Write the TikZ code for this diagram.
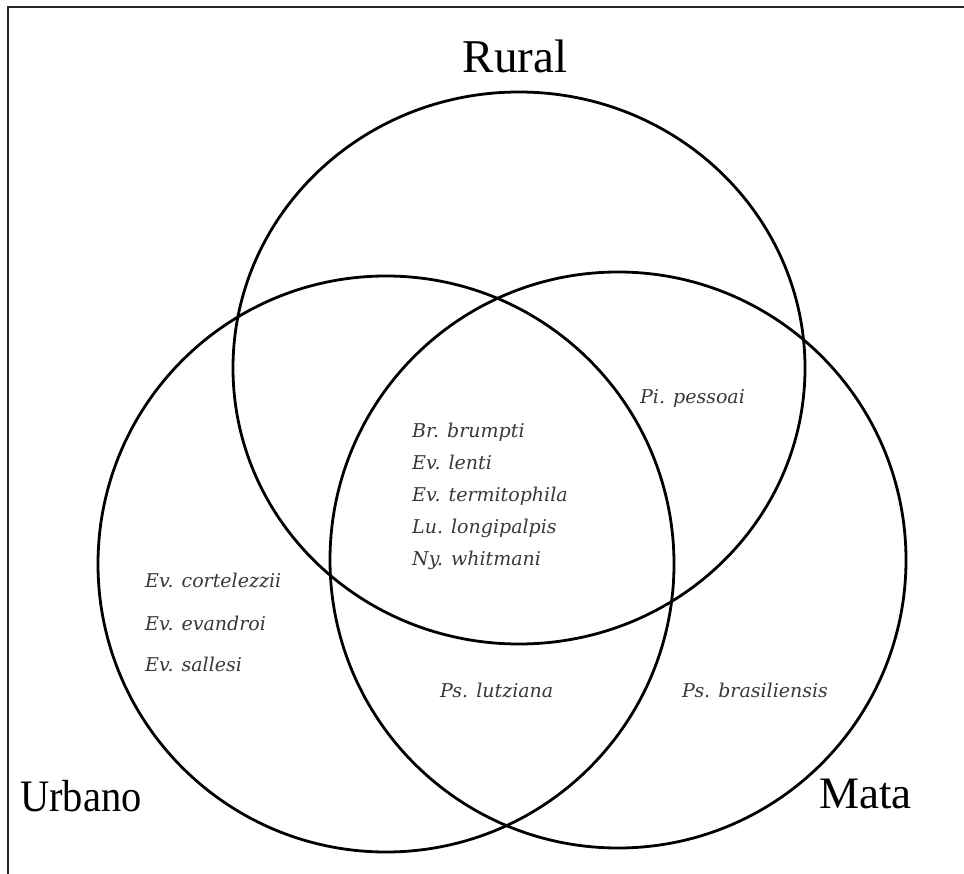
\documentclass[tikz,border=0pt]{standalone}
\usepackage{fontspec}
\setmainfont{Liberation Serif}
\newfontfamily\specfont{DejaVu Serif}
\begin{document}
\begin{tikzpicture}[x=1pt,y=-1pt,
  ring/.style={draw=black,line width=2.8pt},
  setlabel/.style={font=\fontsize{45}{45}\selectfont,inner sep=0pt},
  species/.style={font=\specfont\fontsize{19}{32}\selectfont\itshape,inner sep=0pt,text=black!78},
  frameline/.style={draw=black!85,line width=2.4pt}]
\useasboundingbox (0,0) rectangle (964,874);
% frame (only top and left edges visible)
\coordinate (ftl) at (8,7);
\coordinate (ftr) at (964,7);
\coordinate (fbl) at (8,874);
\draw[frameline] (fbl) -- (ftl) -- (ftr);
% circles
\draw[ring] (519,368) ellipse [x radius=286, y radius=276];
\draw[ring] (386,564) circle [radius=288];
\draw[ring] (618,560) circle [radius=288];
% set labels
\node[setlabel,font=\fontsize{47}{47}\selectfont] (rural) at (515,56) {Rural};
\node[setlabel,anchor=west,xscale=0.9] (urbano) at (20,796) {Urbano};
\node[setlabel,anchor=east] (mata) at (912,794) {Mata};
% species
\node[species,anchor=west,align=left] (centre) at (412,496) {Br. brumpti\\Ev. lenti\\Ev. termitophila\\Lu. longipalpis\\Ny. whitmani};
\node[species,anchor=west] (pessoai) at (640,398) {Pi. pessoai};
\node[species,anchor=west] (cort) at (145,581) {Ev. cortelezzii};
\node[species,anchor=west] (evan) at (145,623) {Ev. evandroi};
\node[species,anchor=west] (sall) at (145,664) {Ev. sallesi};
\node[species,anchor=west] (lutz) at (440,691) {Ps. lutziana};
\node[species,anchor=west] (bras) at (682,690) {Ps. brasiliensis};
\end{tikzpicture}
\end{document}
